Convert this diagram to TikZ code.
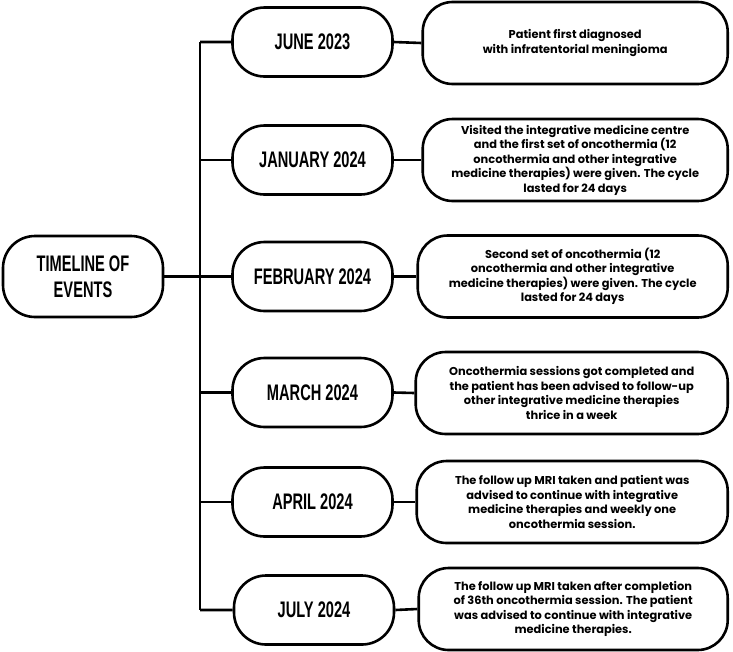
\documentclass[tikz,border=0pt]{standalone}
\usepackage{fontspec}
\setmainfont{Poppins}
\newfontfamily\datefont[FakeStretch=0.65]{Liberation Sans}
\newfontfamily\notefont{Poppins}
\usetikzlibrary{positioning}

\begin{document}
\begin{tikzpicture}[x=1pt, y=-1pt, line width=2.6pt,
  datebox/.style={draw, fill=white, rounded corners=32pt, minimum width=160pt,
    minimum height=69pt, align=center, inner sep=2pt,
    font=\datefont\bfseries\fontsize{22.5}{26}\selectfont},
  notebox/.style={draw, fill=white, rounded corners=30pt, minimum width=308pt,
    minimum height=82pt, anchor=east, align=center, inner sep=2pt,
    font=\notefont\bfseries\fontsize{11.4}{14.5}\selectfont}]

  \useasboundingbox (0,0) rectangle (733,651);

  \newcommand\Dx{312.5};
  \newcommand\Nx{729};

  \node[datebox, minimum height=81pt] (title) at (83,276.5)
    {TIMELINE OF\\EVENTS};
  \coordinate (spine) at (200,0);

  %% dates
  \node[datebox] (jun) at (\Dx,42) {JUNE 2023};
  \node[datebox] (jan) at (\Dx,160) {JANUARY 2024};
  \node[datebox] (feb) at (\Dx,276.5) {FEBRUARY 2024};
  \node[datebox] (mar) at (\Dx,392.5) {MARCH 2024};
  \node[datebox] (apr) at (\Dx,502) {APRIL 2024};
  \node[datebox] (jul) at (\Dx+1.5,610) {JULY 2024};

  %% notes
  \node[notebox, minimum width=305pt] (junN) at (\Nx,43)
    {Patient first diagnosed\\with infratentorial meningioma};
  \node[notebox, minimum width=305pt] (janN) at (\Nx,160)
    {Visited the integrative medicine centre\\and the first set of oncothermia (12\\
     oncothermia and other integrative\\medicine therapies) were given. The cycle\\
     lasted for 24 days};
  \node[notebox, minimum width=310pt] (febN) at (\Nx,276.5)
    {Second set of oncothermia (12\\oncothermia and other integrative\\
     medicine therapies) were given. The cycle\\lasted for 24 days};
  \node[notebox, minimum width=312pt] (marN) at (\Nx,393)
    {Oncothermia sessions got completed and\\the patient has been advised to follow-up\\
     other integrative medicine therapies\\thrice in a week};
  \node[notebox, minimum width=311pt] (aprN) at (\Nx,502)
    {The follow up MRI taken and patient was\\advised to continue with integrative\\
     medicine therapies and weekly one\\oncothermia session.};
  \node[notebox, minimum width=309pt] (julN) at (\Nx,609)
    {The follow up MRI taken after completion\\of 36th oncothermia session. The patient\\
     was advised to continue with integrative\\medicine therapies.};

  %% connectors
  \draw (title.east) -- (title.east -| spine);
  \draw (spine |- jun.west) -- (spine |- jul.west);
  \foreach \d in {jun,jan,feb,mar,apr,jul}
    \draw (spine |- \d.west) -- (\d.west) (\d.east) -- (\d N.west);
\end{tikzpicture}
\end{document}
